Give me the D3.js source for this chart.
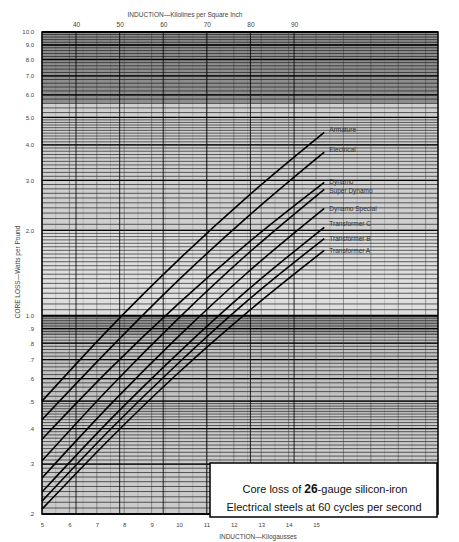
<!DOCTYPE html>
<html><head><meta charset="utf-8">
<script src="https://cdn.jsdelivr.net/npm/d3@7"></script>
<style>
html,body{margin:0;padding:0;background:#fff;}
svg{display:block;font-family:"Liberation Sans",Arial,sans-serif;}
</style></head>
<body><svg id="c" width="459" height="542"></svg>
<script>
// ---- data ----
const inductionKG = [5, 7.5, 10, 12.5, 15.3];
const seriesNames = ["Armature","Electrical","Dynamo","Super Dynamo","Dynamo Special","Transformer C","Transformer B","Transformer A"];
const armature      = [0.50, 0.91, 1.58, 2.63, 4.43];
const electrical    = [0.43, 0.77, 1.34, 2.23, 3.77];
const dynamo        = [0.367, 0.652, 1.107, 1.80, 2.95];
const superDynamo   = [0.308, 0.562, 0.983, 1.65, 2.79];
const dynamoSpecial = [0.268, 0.487, 0.849, 1.42, 2.39];
const transformerC  = [0.239, 0.431, 0.743, 1.23, 2.05];
const transformerB  = [0.222, 0.398, 0.684, 1.13, 1.87];
const transformerA  = [0.208, 0.370, 0.632, 1.03, 1.70];
const seriesValues = [armature, electrical, dynamo, superDynamo, dynamoSpecial, transformerC, transformerB, transformerA];
const bottomTicks = [5,6,7,8,9,10,11,12,13,14,15];
const topTicks = [40,50,60,70,80,90];
const yTicks = [10,9,8,7,6,5,4,3,2,1,0.9,0.8,0.7,0.6,0.5,0.4,0.3,0.2];
const titleLine1 = ["Core loss of ", "26", "-gauge silicon-iron"];
const titleLine2 = "Electrical steels at 60 cycles per second";

// ---- layout ----
const svg = d3.select("#c");
const L = 42, R = 438, T = 32, B = 514;
const x = d3.scaleLinear().domain([5, 19.45]).range([L, R]);
const xTop = d3.scaleLinear().domain([32.2, 123]).range([L, R]);
const y = d3.scaleLog().domain([0.2, 10]).range([B, T]);

// shaded bands (scan look)
const bands = [[5.6,10,"#8f8f8f"],[2.0,5.6,"#cfcfcf"],[1.0,2.0,"#dedede"],[0.85,1.0,"#9d9d9d"],[0.45,0.85,"#c2c2c2"],[0.2,0.45,"#cbcbcb"]];
svg.append("g").selectAll("rect").data(bands).join("rect")
  .attr("x", L).attr("width", R-L)
  .attr("y", d=>y(d[1])).attr("height", d=>y(d[0])-y(d[1]))
  .attr("fill", d=>d[2]);

// minor horizontal grid
const minor = [];
function addRange(a,b,s){ for(let v=a; v<b-1e-9; v+=s) minor.push(+v.toFixed(4)); }
addRange(0.2,0.5,0.01); addRange(0.5,1,0.02); addRange(1,2,0.05); addRange(2,5,0.1); addRange(5,10,0.2);
const g = svg.append("g");
g.selectAll("line.h").data(minor).join("line")
  .attr("x1", L).attr("x2", R)
  .attr("y1", d=>y(d)).attr("y2", d=>y(d))
  .attr("stroke", "#111").attr("stroke-opacity", 0.65).attr("stroke-width", 1);
// major horizontal
g.selectAll("line.hm").data(yTicks).join("line")
  .attr("x1", L).attr("x2", R)
  .attr("y1", d=>y(d)).attr("y2", d=>y(d))
  .attr("stroke", "#000").attr("stroke-width", d=> (d===1||d===10)?2:1.3);
// vertical grid
const vMinor = d3.range(5, 19.5, 0.5);
g.selectAll("line.v").data(vMinor).join("line")
  .attr("x1", d=>x(d)).attr("x2", d=>x(d)).attr("y1", T).attr("y2", B)
  .attr("stroke", "#333").attr("stroke-opacity", d=> Number.isInteger(d)?0.55:0.22).attr("stroke-width", 0.8);
g.selectAll("line.vt").data(topTicks).join("line")
  .attr("x1", d=>xTop(d)).attr("x2", d=>xTop(d)).attr("y1", T).attr("y2", B)
  .attr("stroke", "#000").attr("stroke-opacity", 0.75).attr("stroke-width", 1.1);

// frame
svg.append("rect").attr("x", L).attr("y", T).attr("width", R-L).attr("height", B-T)
  .attr("fill","none").attr("stroke","#000").attr("stroke-width",1.5);

// curves
const line = d3.line().x((d,i)=>x(inductionKG[i])).y(d=>y(d)).curve(d3.curveMonotoneX);
svg.append("g").selectAll("path").data(seriesValues).join("path")
  .attr("d", d=>line(d)).attr("fill","none").attr("stroke","#000").attr("stroke-width",1.6);

// labels at line ends
const lastX = inductionKG[inductionKG.length-1];
const labelNudge = [-2,-2,0,2,1,-3,0,1];
svg.append("g").selectAll("text").data(seriesNames).join("text")
  .attr("x", x(lastX)+5)
  .attr("y", (d,i)=> y(seriesValues[i][seriesValues[i].length-1]) + labelNudge[i] + 2)
  .attr("font-size", 6.5).attr("fill", "#333").text(d=>d);

// axes
const axL = svg.append("g").attr("transform", `translate(${L-5},0)`)
  .call(d3.axisLeft(y).tickValues(yTicks).tickSize(0)
     .tickFormat(d => d>=1 ? d.toFixed(1) : d3.format(".1f")(d).replace(/^0/, "")));
axL.select(".domain").remove();
axL.selectAll("text").attr("font-size", 6).attr("fill", "#444");

const axB = svg.append("g").attr("transform", `translate(0,${B+6})`)
  .call(d3.axisBottom(x).tickValues(bottomTicks).tickSize(0).tickFormat(d3.format("d")));
axB.select(".domain").remove();
axB.selectAll("text").attr("font-size", 6).attr("fill", "#444");

const axT = svg.append("g").attr("transform", `translate(0,${T-2})`)
  .call(d3.axisTop(xTop).tickValues(topTicks).tickSize(0).tickFormat(d3.format("d")));
axT.select(".domain").remove();
axT.selectAll("text").attr("font-size", 6.5).attr("fill", "#444");

// axis titles
svg.append("text").attr("x", 185).attr("y", 17).attr("text-anchor","middle")
  .attr("font-size", 6.5).attr("fill","#444").text("INDUCTION\u2014Kilolines per Square Inch");
svg.append("text").attr("x", 258).attr("y", 539).attr("text-anchor","middle")
  .attr("font-size", 6.5).attr("fill","#444").text("INDUCTION\u2014Kilogausses");
svg.append("text").attr("transform","translate(20,272) rotate(-90)").attr("text-anchor","middle")
  .attr("font-size", 6.5).attr("fill","#444").text("CORE LOSS\u2014Watts per Pound");

// title box
const box = svg.append("g");
box.append("rect").attr("x", 210).attr("y", 463).attr("width", 227).attr("height", 54)
  .attr("fill","#fff").attr("stroke","#000").attr("stroke-width",1.5);
const t1 = box.append("text").attr("x", 325).attr("y", 493).attr("text-anchor","middle")
  .attr("font-size", 11).attr("fill","#111");
t1.selectAll("tspan").data(titleLine1).join("tspan")
  .attr("font-weight", (d,i)=> i===1 ? "bold" : null).attr("font-size", (d,i)=> i===1 ? 12 : 11).text(d=>d);
box.append("text").attr("x", 324).attr("y", 511).attr("text-anchor","middle")
  .attr("font-size", 11).attr("fill","#111").text(titleLine2);
</script></body></html>
